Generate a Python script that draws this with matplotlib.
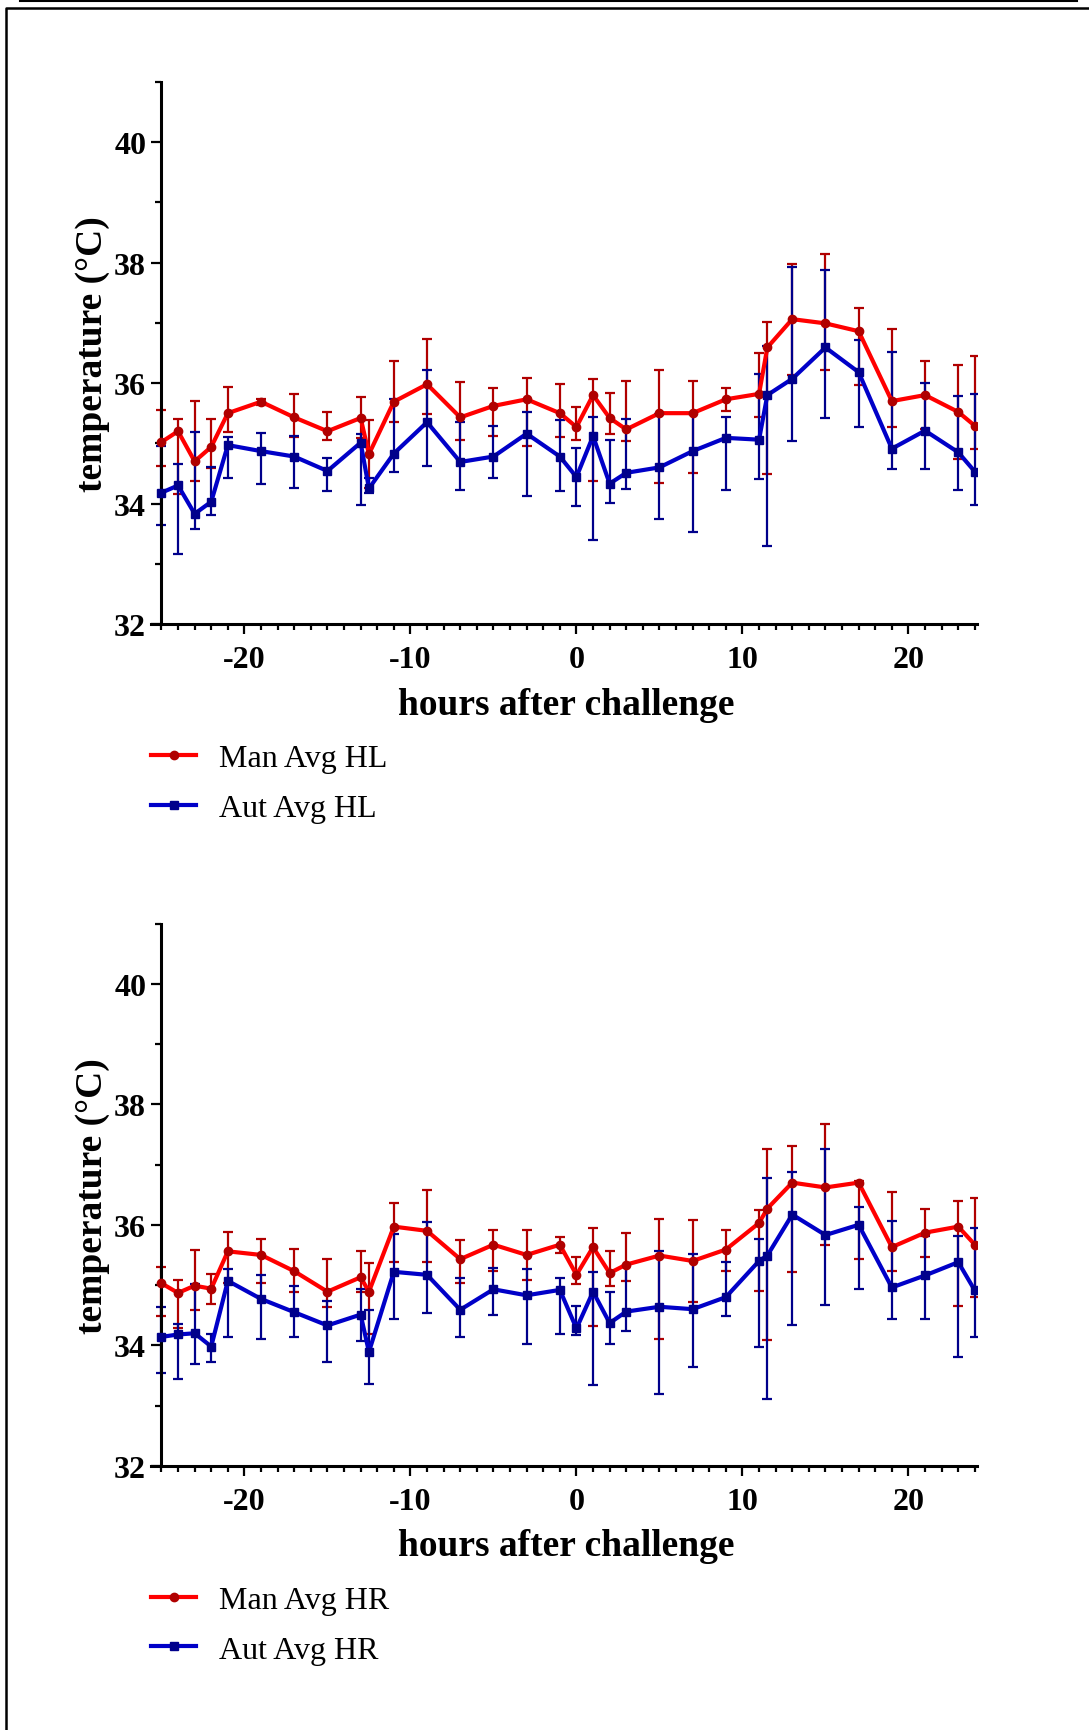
import matplotlib.pyplot as plt
from matplotlib.lines import Line2D
from matplotlib.ticker import MultipleLocator

plt.rcParams['font.family'] = ['Liberation Serif', 'DejaVu Serif']
plt.rcParams['font.weight'] = 'bold'
plt.rcParams['axes.unicode_minus'] = False

# sampling times (h relative to challenge)
hours = [-25, -24, -23, -22, -21, -19, -17, -15, -13, -12.5, -11, -9, -7, -5, -3, -1,
         0, 1, 2, 3, 5, 7, 9, 11, 11.5, 13, 15, 17, 19, 21, 23, 24]

# HL - manual readings: mean, upper and lower end of error bar
man_hl = [35.02, 35.20, 34.70, 34.94, 35.50, 35.69, 35.43, 35.20, 35.42, 34.82, 35.69, 35.98,
          35.43, 35.62, 35.73, 35.50, 35.27, 35.80, 35.42, 35.23, 35.50, 35.50, 35.73, 35.82,
          36.59, 37.06, 36.99, 36.86, 35.70, 35.80, 35.52, 35.29]
man_hl_hi = [35.56, 35.41, 35.70, 35.40, 35.93, 35.74, 35.82, 35.52, 35.76, 35.39, 36.36, 36.73,
             36.01, 35.91, 36.09, 35.99, 35.60, 36.07, 35.83, 36.04, 36.21, 36.03, 35.92, 36.50,
             37.02, 37.98, 38.14, 37.24, 36.89, 36.37, 36.30, 36.45]
man_hl_lo = [34.62, 34.16, 34.38, 34.59, 35.18, 35.64, 35.10, 35.06, 35.08, 34.26, 35.36, 35.49,
             35.06, 35.12, 34.96, 35.10, 35.05, 34.37, 35.15, 35.03, 34.34, 34.50, 35.53, 35.43,
             34.49, 36.14, 36.22, 35.97, 35.27, 35.23, 34.74, 34.90]

# HL - automatic readings
aut_hl = [34.18, 34.30, 33.83, 34.03, 34.97, 34.87, 34.78, 34.54, 35.01, 34.25, 34.83, 35.35,
          34.69, 34.78, 35.16, 34.78, 34.44, 35.12, 34.33, 34.51, 34.60, 34.87, 35.09, 35.06,
          35.80, 36.07, 36.59, 36.18, 34.91, 35.21, 34.85, 34.53]
aut_hl_hi = [34.95, 34.65, 35.18, 34.61, 35.10, 35.17, 35.12, 34.75, 35.15, 34.43, 35.74, 36.22,
             35.36, 35.29, 35.52, 35.38, 34.93, 35.44, 35.06, 35.41, 35.48, 35.49, 35.43, 36.15,
             36.61, 37.92, 37.87, 36.71, 36.52, 36.00, 35.78, 35.82]
aut_hl_lo = [33.65, 33.17, 33.58, 33.81, 34.43, 34.33, 34.26, 34.20, 33.97, 34.18, 34.52, 34.62,
             34.23, 34.43, 34.13, 34.20, 33.96, 33.40, 34.01, 34.24, 33.74, 33.53, 34.23, 34.40,
             33.29, 35.04, 35.42, 35.27, 34.57, 34.57, 34.23, 33.98]

# HR - manual readings
man_hr = [35.03, 34.87, 34.99, 34.94, 35.56, 35.50, 35.23, 34.89, 35.13, 34.89, 35.97, 35.90,
          35.43, 35.67, 35.50, 35.67, 35.17, 35.63, 35.20, 35.34, 35.49, 35.40, 35.59, 36.03,
          36.27, 36.70, 36.62, 36.70, 35.63, 35.87, 35.97, 35.67]
man_hr_hi = [35.30, 35.08, 35.58, 35.19, 35.88, 35.76, 35.60, 35.44, 35.57, 35.36, 36.36, 36.58,
             35.75, 35.92, 35.92, 35.80, 35.46, 35.94, 35.57, 35.86, 36.09, 36.08, 35.92, 36.24,
             37.26, 37.31, 37.68, 36.73, 36.54, 36.27, 36.40, 36.44]
man_hr_lo = [34.48, 34.29, 34.59, 34.69, 35.04, 35.04, 34.88, 34.63, 34.88, 34.19, 35.38, 35.38,
             35.04, 35.23, 35.08, 35.54, 35.01, 34.32, 34.98, 35.06, 34.10, 34.72, 35.23, 34.90,
             34.09, 35.21, 35.66, 35.43, 35.23, 35.47, 34.65, 34.80]

# HR - automatic readings
aut_hr = [34.14, 34.18, 34.20, 33.98, 35.07, 34.77, 34.55, 34.33, 34.51, 33.89, 35.22, 35.17,
          34.59, 34.93, 34.83, 34.92, 34.28, 34.89, 34.37, 34.56, 34.64, 34.60, 34.80, 35.40,
          35.49, 36.17, 35.83, 36.00, 34.96, 35.16, 35.38, 34.91]
aut_hr_hi = [34.63, 34.36, 35.02, 34.19, 35.26, 35.16, 34.99, 34.73, 34.94, 34.58, 35.85, 36.04,
             35.11, 35.29, 35.27, 35.12, 34.65, 35.21, 34.89, 35.31, 35.56, 35.51, 35.38, 35.76,
             36.77, 36.87, 37.26, 36.30, 36.06, 35.81, 35.82, 35.95]
aut_hr_lo = [33.54, 33.44, 33.69, 33.73, 34.14, 34.11, 34.13, 33.73, 34.07, 33.36, 34.43, 34.54,
             34.14, 34.50, 34.02, 34.18, 34.17, 33.34, 34.03, 34.23, 33.19, 33.64, 34.48, 33.97,
             33.11, 34.33, 34.67, 34.94, 34.44, 34.44, 33.80, 34.14]


def serie(ax, y, hi, lo, label, line_color, dark_color, marker):
    yerr = [[m - l for m, l in zip(y, lo)], [h - m for m, h in zip(y, hi)]]
    ax.errorbar(hours, y, yerr=yerr, fmt='none', ecolor=dark_color, elinewidth=1.6,
                capsize=3.6, capthick=1.6, zorder=2)
    ax.plot(hours, y, color=line_color, lw=3, marker=marker, ms=6,
            mfc=dark_color, mec=dark_color, label=label, zorder=3)


def panel(ax, man, man_hi, man_lo, aut, aut_hi, aut_lo, sufijo):
    serie(ax, man, man_hi, man_lo, 'Man Avg ' + sufijo, '#ff0000', '#b00000', 'o')
    serie(ax, aut, aut_hi, aut_lo, 'Aut Avg ' + sufijo, '#0000c8', '#00008b', 's')

    ax.set_xlim(-25.6, 24.1)
    ax.set_ylim(32, 41)
    ax.spines['top'].set_visible(False)
    ax.spines['right'].set_visible(False)
    ax.spines['left'].set_position(('data', -25))
    for s in ('left', 'bottom'):
        ax.spines[s].set_linewidth(2.2)

    ax.xaxis.set_major_locator(MultipleLocator(10))
    ax.xaxis.set_minor_locator(MultipleLocator(1))
    ax.yaxis.set_major_locator(MultipleLocator(2))
    ax.yaxis.set_minor_locator(MultipleLocator(1))
    ax.tick_params(which='major', direction='out', length=7, width=1.6, labelsize=23)
    ax.tick_params(which='minor', direction='out', length=4, width=1.6)
    ax.tick_params(axis='x', which='major', pad=8)
    ax.tick_params(axis='y', which='major', pad=4)

    ax.text(0.503, -0.165, 'hours after challenge', transform=ax.transAxes,
            ha='center', va='baseline', fontsize=27, fontweight='bold')
    ax.text(-0.072, 0.5, 'temperature (°C)', transform=ax.transAxes, rotation=90,
            ha='center', va='center', fontsize=27, fontweight='bold')

    ax.legend(loc='upper left', bbox_to_anchor=(0.0, -0.221), frameon=False,
              borderaxespad=0, borderpad=0, handlelength=1.4, handletextpad=0.72,
              labelspacing=0.63, prop={'size': 23, 'weight': 'normal'})


fig = plt.figure(figsize=(10.89, 17.31), dpi=100)
ax1 = fig.add_axes([0.1391, 0.6389, 0.7576, 0.3133])
ax2 = fig.add_axes([0.1391, 0.1526, 0.7576, 0.3133])

panel(ax1, man_hl, man_hl_hi, man_hl_lo, aut_hl, aut_hl_hi, aut_hl_lo, 'HL')
panel(ax2, man_hr, man_hr_hi, man_hr_lo, aut_hr, aut_hr_hi, aut_hr_lo, 'HR')

# page frame
W, H = 1089, 1731
fig.add_artist(Line2D([20 / W, 1077 / W], [1 - 1.5 / H, 1 - 1.5 / H], color='black', lw=1.5))
fig.add_artist(Line2D([6 / W, 6 / W, 1.0], [0.0, 1 - 8.5 / H, 1 - 8.5 / H], color='black', lw=1.8))

fig.savefig('out.png', dpi=100)
